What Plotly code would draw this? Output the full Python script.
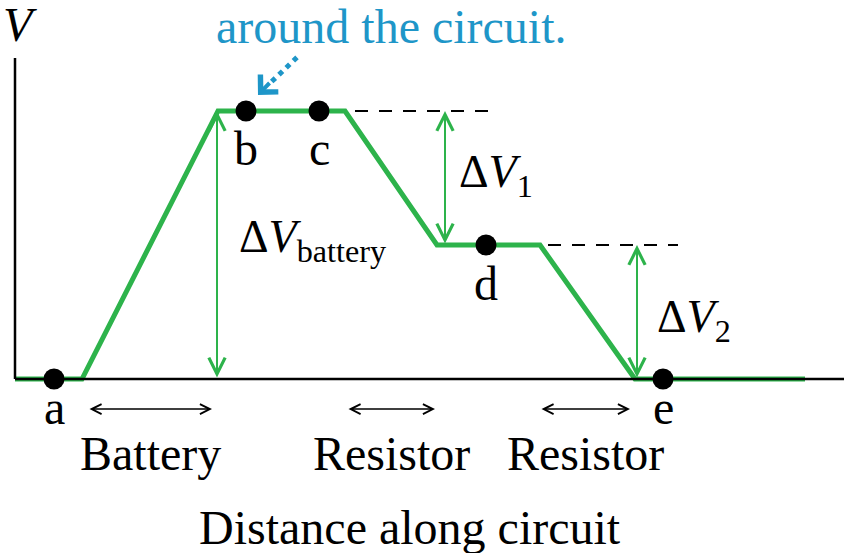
import plotly.graph_objects as go

# ---- data (distance along circuit, potential) ----
path_distance = [0, 6.7, 20.3, 33.0, 42.2, 52.5, 62.0, 79.0]
path_potential = [0, 0, 10, 10, 5, 5, 0, 0]

point_labels = ["a", "b", "c", "d", "e"]
point_distance = [3.9, 23.1, 30.4, 47.1, 64.8]
point_potential = [0, 10, 10, 5, 0]

element_labels = ["Battery", "Resistor", "Resistor"]
element_start = [7.3, 33.2, 52.5]
element_end = [19.7, 42.0, 61.5]

delta_labels = ["ΔV<sub>battery</sub>", "ΔV<sub>1</sub>", "ΔV<sub>2</sub>"]
delta_distance = [20.2, 43.0, 62.2]
delta_top = [10, 10, 5]
delta_bottom = [0, 5, 0]

dashed_levels = [10, 5]
dashed_start = [34.0, 53.3]
dashed_end = [47.3, 66.3]

GREEN = "#2db34b"
BLUE = "#1e96c8"
FONT = "Liberation Serif"
FS = 48
FS_DELTA = 46

X_RANGE = [-1.5, 82.9]
Y_RANGE = [-6.49, 14.14]
x_axis_end = X_RANGE[1]
y_axis_top = 11.98


def tfont(color="black", size=FS):
    return dict(family=FONT, size=size, color=color)


fig = go.Figure()

# axes lines
fig.add_shape(type="line", x0=0, x1=0, y0=0, y1=y_axis_top, line=dict(color="black", width=2.5))
fig.add_shape(type="line", x0=0, x1=x_axis_end, y0=0, y1=0, line=dict(color="black", width=2.5))

# dashed reference lines
for lv, s, e in zip(dashed_levels, dashed_start, dashed_end):
    fig.add_shape(type="line", x0=s, x1=e, y0=lv, y1=lv,
                  line=dict(color="black", width=2.2, dash="13px,11px"))

# potential path
fig.add_trace(go.Scatter(x=path_distance, y=path_potential, mode="lines",
                         line=dict(color=GREEN, width=5), hoverinfo="skip"))

# points
fig.add_trace(go.Scatter(x=point_distance, y=point_potential, mode="markers",
                         marker=dict(color="black", size=21), hoverinfo="skip"))

# point labels
for lab, d, v in zip(point_labels, point_distance, point_potential):
    shift = -28 if v == 0 else -38
    fig.add_annotation(x=d, y=v, text=lab, showarrow=False, yshift=shift, font=tfont())

# delta arrows
for d, t, b in zip(delta_distance, delta_top, delta_bottom):
    fig.add_annotation(x=d, y=t, ax=d, ay=b, axref="x", ayref="y",
                       text="", showarrow=True, arrowhead=5, startarrowhead=5,
                       arrowside="end+start", arrowsize=1.6, startarrowsize=1.6,
                       arrowwidth=2, arrowcolor=GREEN)

# delta labels
delta_label_pos = [(22.2, 5.2), (44.2, 7.6), (64.0, 2.2)]
for lab, (lx, ly) in zip(delta_labels, delta_label_pos):
    txt = lab.replace("V", "<i>V</i>", 1)
    fig.add_annotation(x=lx, y=ly, text=txt, showarrow=False, xanchor="left",
                       font=tfont(size=FS_DELTA))

# element arrows and labels
for lab, s, e in zip(element_labels, element_start, element_end):
    fig.add_annotation(x=e, y=0, ax=s, ay=0, axref="x", ayref="y",
                       yshift=-30, text="", showarrow=True, arrowhead=5, startarrowhead=5,
                       arrowside="end+start", arrowsize=1.3, startarrowsize=1.3,
                       arrowwidth=1.5, arrowcolor="black")
    fig.add_annotation(x=(s + e) / 2, y=0, text=lab, showarrow=False, yshift=-74, font=tfont())

# axis titles
fig.add_annotation(x=39.5, y=0.047, yref="paper", text="Distance along circuit",
                   showarrow=False, yanchor="middle", font=tfont())
fig.add_annotation(x=0, y=1, yref="paper", text="<i>V</i>", showarrow=False, yanchor="middle",
                   xshift=5, yshift=-24, font=tfont())

# blue note
fig.add_annotation(x=37.65, y=1, yref="paper", text="around the circuit.", showarrow=False,
                   yanchor="middle", yshift=-26, font=tfont(BLUE))

# dotted blue arrow
note_x = [28.2, 25.4]
note_y = [12.0, 11.0]
fig.add_trace(go.Scatter(x=note_x, y=note_y, mode="lines",
                         line=dict(color=BLUE, width=5, dash="dot"), hoverinfo="skip"))
fig.add_annotation(x=24.3, y=10.6, ax=25.6, ay=11.1, axref="x", ayref="y", text="",
                   showarrow=True, arrowhead=4, arrowsize=1.2, arrowwidth=4, arrowcolor=BLUE)

fig.update_layout(
    width=844, height=553,
    margin=dict(l=0, r=0, t=0, b=0, pad=0, autoexpand=False),
    paper_bgcolor="white", plot_bgcolor="white",
    showlegend=False,
    xaxis=dict(range=X_RANGE, visible=False, fixedrange=True),
    yaxis=dict(range=Y_RANGE, visible=False, fixedrange=True),
)

fig.write_html("out.html", config={"displayModeBar": False},
               post_script="document.body.style.margin='0';")
